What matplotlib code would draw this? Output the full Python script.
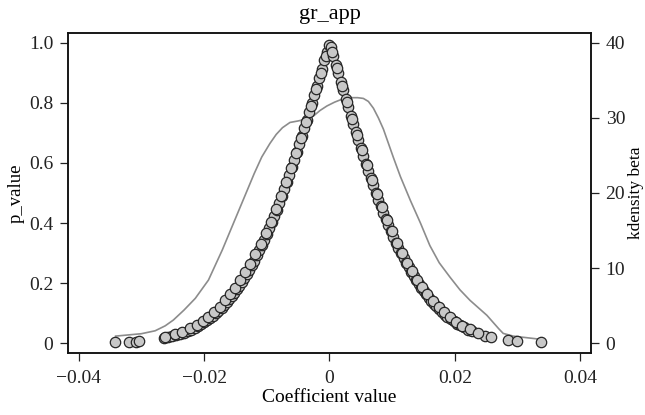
import matplotlib
matplotlib.use('Agg')
import matplotlib.pyplot as plt
from matplotlib.ticker import FixedLocator, FixedFormatter

# coefficient estimates / p-values, left branch (tail to peak)
coef_left = [-0.0342, -0.0319, -0.0309, -0.0303, -0.0264, -0.0258, -0.0251, -0.0245,
             -0.0238, -0.0232, -0.0226, -0.0221, -0.0215, -0.0210, -0.0205, -0.0200,
             -0.0195, -0.0190, -0.0186, -0.0181, -0.0177, -0.0172, -0.0168, -0.0164,
             -0.0160, -0.0156, -0.0152, -0.0148, -0.0144, -0.0140, -0.0136, -0.0132,
             -0.0128, -0.0124, -0.0120, -0.0116, -0.0112, -0.0108, -0.0104, -0.0100,
             -0.0096, -0.0092, -0.0088, -0.0084, -0.0080, -0.0076, -0.0072, -0.0068,
             -0.0064, -0.0060, -0.0056, -0.0052, -0.0048, -0.0044, -0.0040, -0.0036,
             -0.0032, -0.0028, -0.0024, -0.0020, -0.0016, -0.0012, -0.0008, -0.0004,
             -0.0001]
pval_left = [0.002, 0.004, 0.005, 0.006, 0.016, 0.019, 0.023, 0.026,
             0.031, 0.035, 0.040, 0.045, 0.051, 0.056, 0.062, 0.069,
             0.076, 0.084, 0.091, 0.100, 0.108, 0.118, 0.127, 0.136,
             0.146, 0.156, 0.167, 0.179, 0.191, 0.203, 0.216, 0.230,
             0.245, 0.260, 0.275, 0.292, 0.309, 0.326, 0.345, 0.363,
             0.383, 0.403, 0.424, 0.445, 0.467, 0.490, 0.513, 0.536,
             0.561, 0.585, 0.611, 0.636, 0.663, 0.689, 0.716, 0.743,
             0.771, 0.799, 0.827, 0.856, 0.884, 0.913, 0.942, 0.971,
             0.993]

# second set of left-branch estimates, lying on nearly the same curve
coef_left2 = [-0.0262, -0.0247, -0.0235, -0.0222, -0.0212, -0.0202, -0.0193, -0.0184,
              -0.0175, -0.0166, -0.0158, -0.0150, -0.0142, -0.0134, -0.0126, -0.0118,
              -0.0110, -0.0102, -0.0094, -0.0086, -0.0078, -0.0070, -0.0062, -0.0054,
              -0.0046, -0.0038, -0.0030, -0.0022, -0.0014, -0.0006]
pval_left2 = [0.020, 0.029, 0.038, 0.049, 0.061, 0.074, 0.088, 0.104,
              0.121, 0.142, 0.162, 0.185, 0.209, 0.236, 0.265, 0.297,
              0.331, 0.367, 0.405, 0.447, 0.490, 0.536, 0.583, 0.633,
              0.684, 0.737, 0.791, 0.845, 0.901, 0.958]

# right branch (peak to tail)
coef_right = [0.0002, 0.0006, 0.0010, 0.0014, 0.0018, 0.0022, 0.0026, 0.0030,
              0.0034, 0.0038, 0.0042, 0.0046, 0.0050, 0.0054, 0.0058, 0.0062,
              0.0066, 0.0070, 0.0074, 0.0078, 0.0082, 0.0086, 0.0090, 0.0094,
              0.0098, 0.0102, 0.0106, 0.0110, 0.0114, 0.0118, 0.0122, 0.0126,
              0.0130, 0.0134, 0.0138, 0.0142, 0.0146, 0.0150, 0.0154, 0.0158,
              0.0162, 0.0166, 0.0170, 0.0175, 0.0179, 0.0184, 0.0188, 0.0193,
              0.0198, 0.0203, 0.0208, 0.0214, 0.0221, 0.0227, 0.0248, 0.0258,
              0.0285, 0.0299, 0.0338]
pval_right = [0.986, 0.956, 0.928, 0.899, 0.870, 0.842, 0.813, 0.785,
              0.757, 0.730, 0.703, 0.676, 0.649, 0.624, 0.598, 0.573,
              0.549, 0.525, 0.501, 0.478, 0.456, 0.434, 0.413, 0.393,
              0.373, 0.354, 0.335, 0.317, 0.300, 0.283, 0.267, 0.252,
              0.237, 0.223, 0.210, 0.197, 0.184, 0.173, 0.162, 0.151,
              0.141, 0.131, 0.122, 0.112, 0.104, 0.094, 0.088, 0.079,
              0.072, 0.065, 0.059, 0.052, 0.045, 0.039, 0.024, 0.019,
              0.010, 0.007, 0.002]

coef_right2 = [0.0004, 0.0012, 0.0020, 0.0028, 0.0036, 0.0044, 0.0052, 0.0060,
               0.0068, 0.0076, 0.0084, 0.0092, 0.0100, 0.0108, 0.0116, 0.0124,
               0.0132, 0.0140, 0.0148, 0.0156, 0.0165, 0.0174, 0.0183, 0.0192,
               0.0202, 0.0212, 0.0224, 0.0236]
pval_right2 = [0.971, 0.915, 0.858, 0.803, 0.748, 0.694, 0.643, 0.592,
               0.544, 0.497, 0.453, 0.411, 0.372, 0.335, 0.300, 0.268,
               0.239, 0.211, 0.186, 0.164, 0.141, 0.120, 0.102, 0.087,
               0.071, 0.058, 0.046, 0.035]

# kernel density of beta (right axis)
kd_x = [-0.0341, -0.0300, -0.0278, -0.0262, -0.0249, -0.0232, -0.0214, -0.0193,
        -0.0171, -0.0158, -0.0145, -0.0132, -0.0120, -0.0108, -0.0095, -0.0085,
        -0.0075, -0.0063, -0.0050, -0.0035, -0.0025, -0.0015, -0.0004, 0.0008,
        0.0020, 0.0033, 0.0045, 0.0054, 0.0062, 0.0070, 0.0078, 0.0086,
        0.0094, 0.0102, 0.0113, 0.0129, 0.0145, 0.0160, 0.0175, 0.0192,
        0.0208, 0.0224, 0.0251, 0.0270, 0.0277, 0.0293, 0.0338]
kd_y = [0.93, 1.25, 1.64, 2.3, 3.07, 4.4, 5.96, 8.4,
        12.4, 15.0, 17.6, 20.2, 22.6, 24.8, 26.6, 27.8,
        28.7, 29.4, 29.6, 29.9, 30.3, 31.0, 31.6, 32.1,
        32.5, 32.7, 32.7, 32.6, 32.2, 31.3, 30.0, 28.5,
        26.6, 24.7, 22.2, 19.0, 16.0, 13.0, 10.7, 8.8,
        7.1, 5.7, 3.7, 1.9, 1.29, 0.93, 0.49]

plt.rcParams['font.family'] = ['Liberation Serif', 'DejaVu Serif']

fig = plt.figure(figsize=(6.45, 4.15), dpi=100)
ax = fig.add_axes([0.1054, 0.1494, 0.8109, 0.7711])
ax2 = ax.twinx()

for cx, py in [(coef_left, pval_left), (coef_left2, pval_left2),
               (coef_right, pval_right), (coef_right2, pval_right2)]:
    ax.scatter(cx, py, s=56, facecolor='#c8c8c8', edgecolor='#262626',
               linewidth=0.9, zorder=3)
ax2.plot(kd_x, kd_y, color='#8c8c8c', linewidth=1.2)

ax.set_zorder(ax2.get_zorder() + 1)
ax.patch.set_visible(False)

ax.set_xlim(-0.0417, 0.0417)
ax.set_ylim(-0.033, 1.033)
ax2.set_ylim(-0.033 * 40, 1.033 * 40)

xt = [-0.04, -0.02, 0, 0.02, 0.04]
ax.xaxis.set_major_locator(FixedLocator(xt))
ax.xaxis.set_major_formatter(FixedFormatter(['\u22120.04', '\u22120.02', '0', '0.02', '0.04']))
yt = [0, 0.2, 0.4, 0.6, 0.8, 1.0]
ax.yaxis.set_major_locator(FixedLocator(yt))
ax.yaxis.set_major_formatter(FixedFormatter(['0', '0.2', '0.4', '0.6', '0.8', '1.0']))
ax2.set_yticks([0, 10, 20, 30, 40])

for a in (ax, ax2):
    a.tick_params(direction='out', length=5.5, width=0.9, colors='#222222',
                  labelsize=14, pad=5)
    for sp in a.spines.values():
        sp.set_linewidth(1.1)
        sp.set_color('#111111')
ax.tick_params(axis='x', pad=7)

ax.set_title('gr_app', fontsize=16, pad=10)
ax.set_xlabel('Coefficient value', fontsize=14, labelpad=1)
ax.set_ylabel('p_value', fontsize=13.5, labelpad=3)
ax2.set_ylabel('kdensity beta', fontsize=12.5, labelpad=2)

plt.savefig('out.png', dpi=100)
plt.close()
